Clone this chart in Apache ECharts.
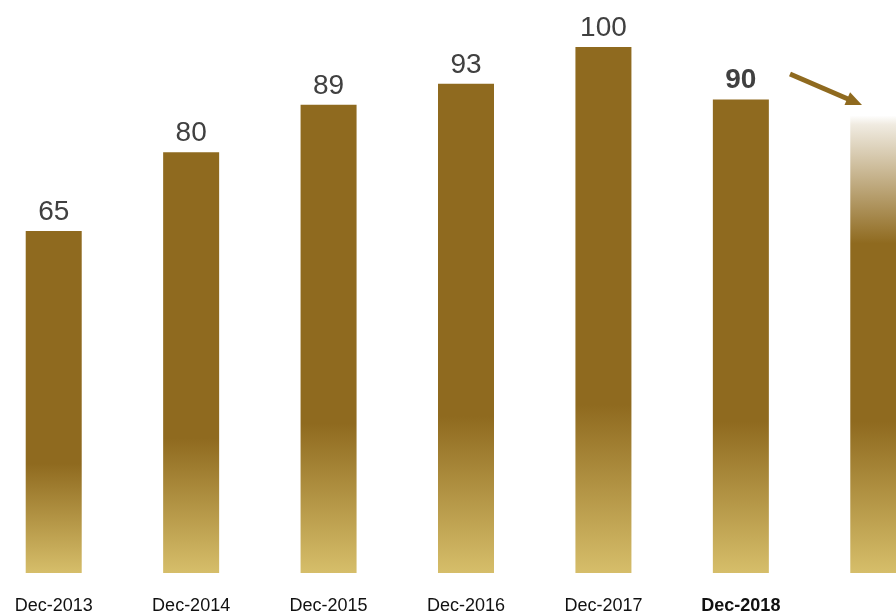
<!DOCTYPE html>
<html>
<head>
<meta charset="utf-8">
<script src="https://cdn.jsdelivr.net/npm/echarts@6/dist/echarts.min.js"></script>
<style>
  html, body { margin: 0; padding: 0; background: #fff; }
  #chart { width: 896px; height: 615px; }
</style>
</head>
<body>
<div id="chart"></div>
<script>
// Year-end index values; the last column is the projected next period (unlabelled)
const categories = ['Dec-2013', 'Dec-2014', 'Dec-2015', 'Dec-2016', 'Dec-2017', 'Dec-2018', ''];
const values = [65, 80, 89, 93, 100, 90, 87];
const highlightIndex = 5;   // most recent reported year, shown in bold
const projectedIndex = 6;   // fading projected bar

const DARK = '#8f6a1f';
const LIGHT = '#d6be6a';
const FONT = '"Liberation Sans", Arial, sans-serif';

function solidGradient() {
  return new echarts.graphic.LinearGradient(0, 0, 0, 1, [
    { offset: 0, color: DARK },
    { offset: 0.68, color: DARK },
    { offset: 1, color: LIGHT }
  ]);
}
function fadingGradient() {
  return new echarts.graphic.LinearGradient(0, 0, 0, 1, [
    { offset: 0, color: 'rgba(255,255,255,1)' },
    { offset: 0.02, color: 'rgba(240,235,225,1)' },
    { offset: 0.28, color: DARK },
    { offset: 0.67, color: DARK },
    { offset: 1, color: LIGHT }
  ]);
}

const seriesData = values.map((v, i) => {
  const item = { value: v, itemStyle: { color: i === projectedIndex ? fadingGradient() : solidGradient() } };
  if (i === projectedIndex) {
    item.label = { show: false };
  } else if (i === highlightIndex) {
    item.label = { fontWeight: 'bold' };
  }
  return item;
});

const chart = echarts.init(document.getElementById('chart'), null, { renderer: 'canvas' });
chart.setOption({
  animation: false,
  backgroundColor: '#ffffff',
  grid: { left: -15, right: -51, top: 47, bottom: 42, containLabel: false, outerBoundsMode: 'none' },
  xAxis: {
    type: 'category',
    data: categories,
    axisLine: { show: false },
    axisTick: { show: false },
    axisLabel: {
      margin: 24,
      fontSize: 18,
      fontFamily: FONT,
      color: '#111111',
      interval: 0,
      formatter: (v, i) => (i === highlightIndex ? '{b|' + v + '}' : v),
      rich: { b: { fontSize: 18, fontFamily: FONT, fontWeight: 'bold', color: '#111111' } }
    }
  },
  yAxis: {
    type: 'value',
    min: 0,
    max: 100,
    show: false,
    splitLine: { show: false }
  },
  series: [{
    type: 'bar',
    data: seriesData,
    barWidth: 56,
    label: {
      show: true,
      position: 'top',
      distance: 5,
      fontSize: 28,
      fontFamily: FONT,
      color: '#404040'
    }
  }]
});

// Downward trend arrow pointing at the projected bar
const x0 = 790, y0 = 74, x1 = 862, y1 = 105;
const ang = Math.atan2(y1 - y0, x1 - x0);
const headLen = 16, headHalf = 7;
const bx = x1 - headLen * Math.cos(ang), by = y1 - headLen * Math.sin(ang);
chart.setOption({
  graphic: [
    {
      type: 'line',
      shape: { x1: x0, y1: y0, x2: bx + 2 * Math.cos(ang), y2: by + 2 * Math.sin(ang) },
      style: { stroke: DARK, lineWidth: 5 },
      silent: true
    },
    {
      type: 'polygon',
      shape: {
        points: [
          [x1, y1],
          [bx - headHalf * Math.sin(ang), by + headHalf * Math.cos(ang)],
          [bx + headHalf * Math.sin(ang), by - headHalf * Math.cos(ang)]
        ]
      },
      style: { fill: DARK },
      silent: true
    }
  ]
});
</script>
</body>
</html>
